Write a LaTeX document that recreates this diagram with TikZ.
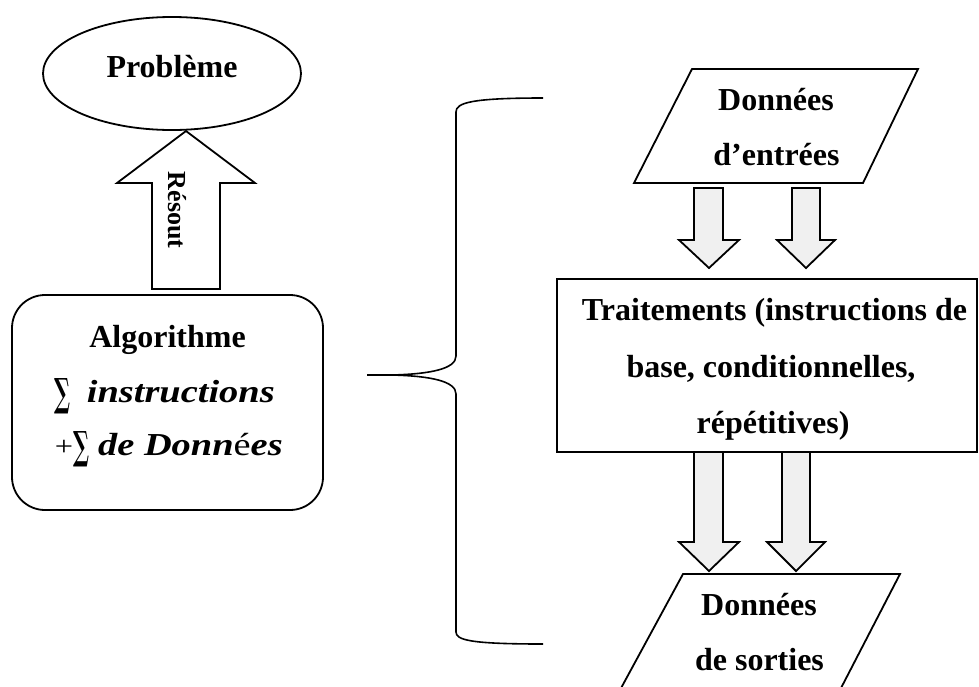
\documentclass[tikz,border=0pt]{standalone}
\usepackage{graphicx}
\usepackage{fontspec}
\setmainfont{Liberation Serif}
\newfontfamily\cambfont{Liberation Serif}[FakeStretch=1.2]
\newfontfamily\sumfont{DejaVu Serif}
\usetikzlibrary{shapes.geometric}
\newcommand\bigsumsym{\raisebox{-4.5pt}{\resizebox{16pt}{28pt}{\sumfont\bfseries\upshape ∑}}}
\begin{document}
\begin{tikzpicture}[x=1pt,y=-1pt,line width=1.8pt,line join=miter,
  txt/.style={font=\fontsize{32}{38}\selectfont\bfseries,inner sep=0pt,anchor=base},
  mth/.style={font=\fontsize{32}{38}\selectfont\cambfont\bfseries,inner sep=0pt,anchor=base west},
  blk/.style={draw,fill=gray!12},
  box/.style={draw,inner sep=0pt}]
\useasboundingbox (0,0) rectangle (979,686);
\clip (0,0) rectangle (979,686);

% Problème
\node[box,ellipse,minimum width=258pt,minimum height=113pt] (prob) at (172,73.5) {};
\node[txt] (probtxt) at (172,77) {Problème};

% up block arrow
\draw[fill=white] (152,289) -- (152,183) -- (117,183) -- (186,131) -- (255,183) -- (220,183) -- (220,289) -- cycle;
\node[font=\fontsize{26}{30}\selectfont\bfseries,rotate=-90,inner sep=0pt] (resout) at (177.5,210) {Résout};

% Algorithme box
\node[box,rounded corners=33pt,minimum width=311pt,minimum height=215pt] (algo) at (167.5,402.5) {};
\node[txt] (algo1) at (167.5,347) {Algorithme};
\node[mth] (algo2) at (54,402) {\bigsumsym\hspace{16pt}{\itshape instructions}};
\node[mth] (algo3) at (54,455) {{\mdseries\upshape\fontsize{27}{30}\selectfont +}\bigsumsym\hspace{9pt}{\itshape de Donn}{\upshape\mdseries é}{\itshape es}};

% brace
\coordinate (tip) at (367,375);
\coordinate (btop) at (543,98);
\coordinate (bbot) at (543,644);
\draw[line width=1.6pt] (btop) .. controls (470,98) and (456,103) .. (456,112) -- (456,356)
  .. controls (456,369) and (430,374) .. (392,375) -- (tip);
\draw[line width=1.6pt] (392,375) .. controls (430,376) and (456,381) .. (456,394) -- (456,632)
  .. controls (456,640) and (470,644) .. (bbot);

% Données d'entrées
\draw (692,69) -- (918,69) -- (863,183) -- (634,183) -- cycle;
\node[txt] (in1) at (776,110) {Données};
\node[txt] (in2) at (776.5,165) {d’entrées};

% down arrows (top)
\draw[blk] (694,188) -- (723,188) -- (723,240) -- (739,240) -- (709,268) -- (679,240) -- (694,240) -- cycle;
\draw[blk] (792,188) -- (820,188) -- (820,240) -- (835,240) -- (806,268) -- (777,240) -- (792,240) -- cycle;

% Traitements
\node[box,minimum width=420pt,minimum height=173pt] (trait) at (767,365.5) {};
\node[txt] (t1) at (774.5,320) {Traitements (instructions de};
\node[txt] (t2) at (771,377) {base, conditionnelles,};
\node[txt] (t3) at (773,433) {répétitives)};

% down arrows (bottom)
\draw[blk] (694,452) -- (723,452) -- (723,542) -- (739,542) -- (709,571) -- (679,542) -- (694,542) -- cycle;
\draw[blk] (782,452) -- (810,452) -- (810,542) -- (825,542) -- (796,571) -- (767,542) -- (782,542) -- cycle;

% Données de sorties
\draw (683,574) -- (900,574) -- (840,690) -- (620,690) -- cycle;
\node[txt] (out1) at (759,615) {Données};
\node[txt] (out2) at (759.5,670) {de sorties};
\end{tikzpicture}
\end{document}
